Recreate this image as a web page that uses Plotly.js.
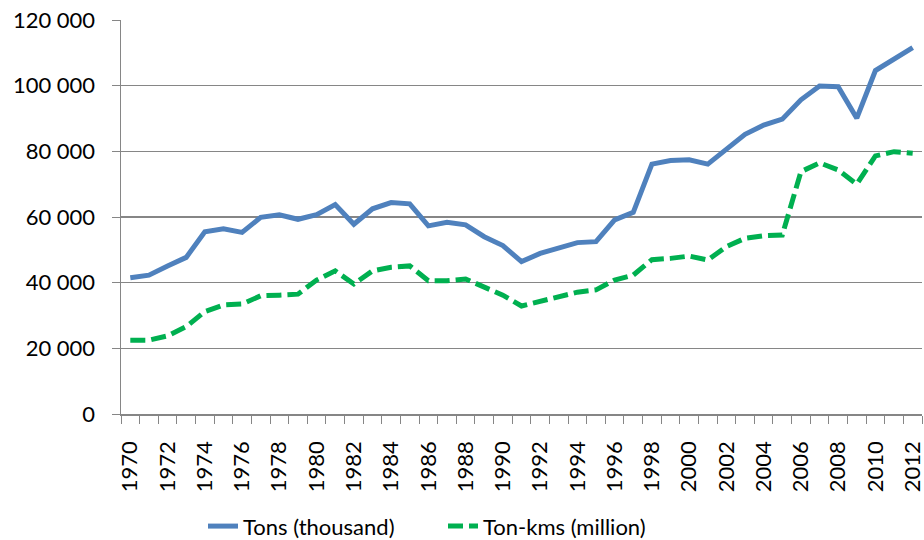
<!DOCTYPE html>
<html>
<head>
<meta charset="utf-8">
<script src="https://cdn.plot.ly/plotly-3.0.1.min.js"></script>
<style>html,body{margin:0;padding:0;background:#fff;}#chart{width:924px;height:540px;}</style>
</head>
<body>
<div id="chart"></div>
<script>
const years = [1970,1971,1972,1973,1974,1975,1976,1977,1978,1979,1980,1981,1982,1983,1984,1985,1986,1987,1988,1989,1990,1991,1992,1993,1994,1995,1996,1997,1998,1999,2000,2001,2002,2003,2004,2005,2006,2007,2008,2009,2010,2011,2012];
const tons = [41500,42300,45100,47700,55500,56400,55300,59900,60700,59300,60700,63800,57800,62500,64400,64000,57300,58400,57600,54000,51300,46400,48900,50700,52200,52500,59100,61400,76100,77200,77400,76100,80600,85200,88000,89800,95700,99900,99700,90100,104600,108300,111600];
const tonKms = [22500,22500,23800,26600,31200,33200,33500,36000,36200,36500,40800,43600,39600,43600,44700,45100,40600,40600,41100,38800,36200,32900,34200,35700,37100,37800,40800,42300,47000,47400,48100,46900,51000,53500,54300,54500,73800,76500,74300,70000,78600,79900,79400];
const yTickVals = [0,20000,40000,60000,80000,100000,120000];
const yTickText = ["0","20 000","40 000","60 000","80 000","100 000","120 000"];
const xLabelYears = years.filter(y => (y - 1970) % 2 === 0);

const FONT = "Lato, Liberation Sans, sans-serif";
const traces = [
  {x: years, y: tons, type: 'scatter', mode: 'lines', name: 'Tons (thousand)',
   line: {color: '#4F81BD', width: 5}},
  {x: years, y: tonKms, type: 'scatter', mode: 'lines', name: 'Ton-kms (million)',
   line: {color: '#00B050', width: 5, dash: '15px,6px'}}
];
const layout = {
  width: 924, height: 540,
  margin: {l: 121, r: 2, t: 20, b: 126, autoexpand: false},
  paper_bgcolor: '#fff', plot_bgcolor: '#fff',
  font: {family: FONT, size: 22, color: '#000'},
  showlegend: true,
  legend: {orientation: 'h', x: 0.402, xanchor: 'center', y: -0.285, yanchor: 'middle',
           entrywidth: 195, entrywidthmode: 'pixels',
           font: {family: FONT, size: 22, color: '#000'}, itemwidth: 30},
  xaxis: {
    range: [1969.5, 2012.5], type: 'linear', automargin: false,
    tickvals: xLabelYears, ticktext: xLabelYears.map(String),
    tickangle: -90, ticks: '', showgrid: false, zeroline: false,
    showline: true, linecolor: '#868686', linewidth: 1.5,
    ticklabelstandoff: 17, ticklabeloverflow: 'allow',
    tickfont: {family: FONT, size: 22, color: '#000'},
    minor: {tickvals: years.map(y => y - 0.5).concat([2012.5]), ticks: 'outside', ticklen: 8, tickcolor: '#868686', tickwidth: 1, showgrid: false}
  },
  yaxis: {
    range: [0, 120000], tickvals: yTickVals, ticktext: yTickText, automargin: false,
    ticks: 'outside', ticklen: 8, tickcolor: '#868686', tickwidth: 1,
    ticklabelstandoff: 12,
    showgrid: true, gridcolor: '#868686', gridwidth: 1.5,
    zeroline: false, showline: true, linecolor: '#868686', linewidth: 1.5,
    tickfont: {family: FONT, size: 22, color: '#000'}
  }
};
Plotly.newPlot('chart', traces, layout, {displayModeBar: false, staticPlot: true});
</script>
</body>
</html>
